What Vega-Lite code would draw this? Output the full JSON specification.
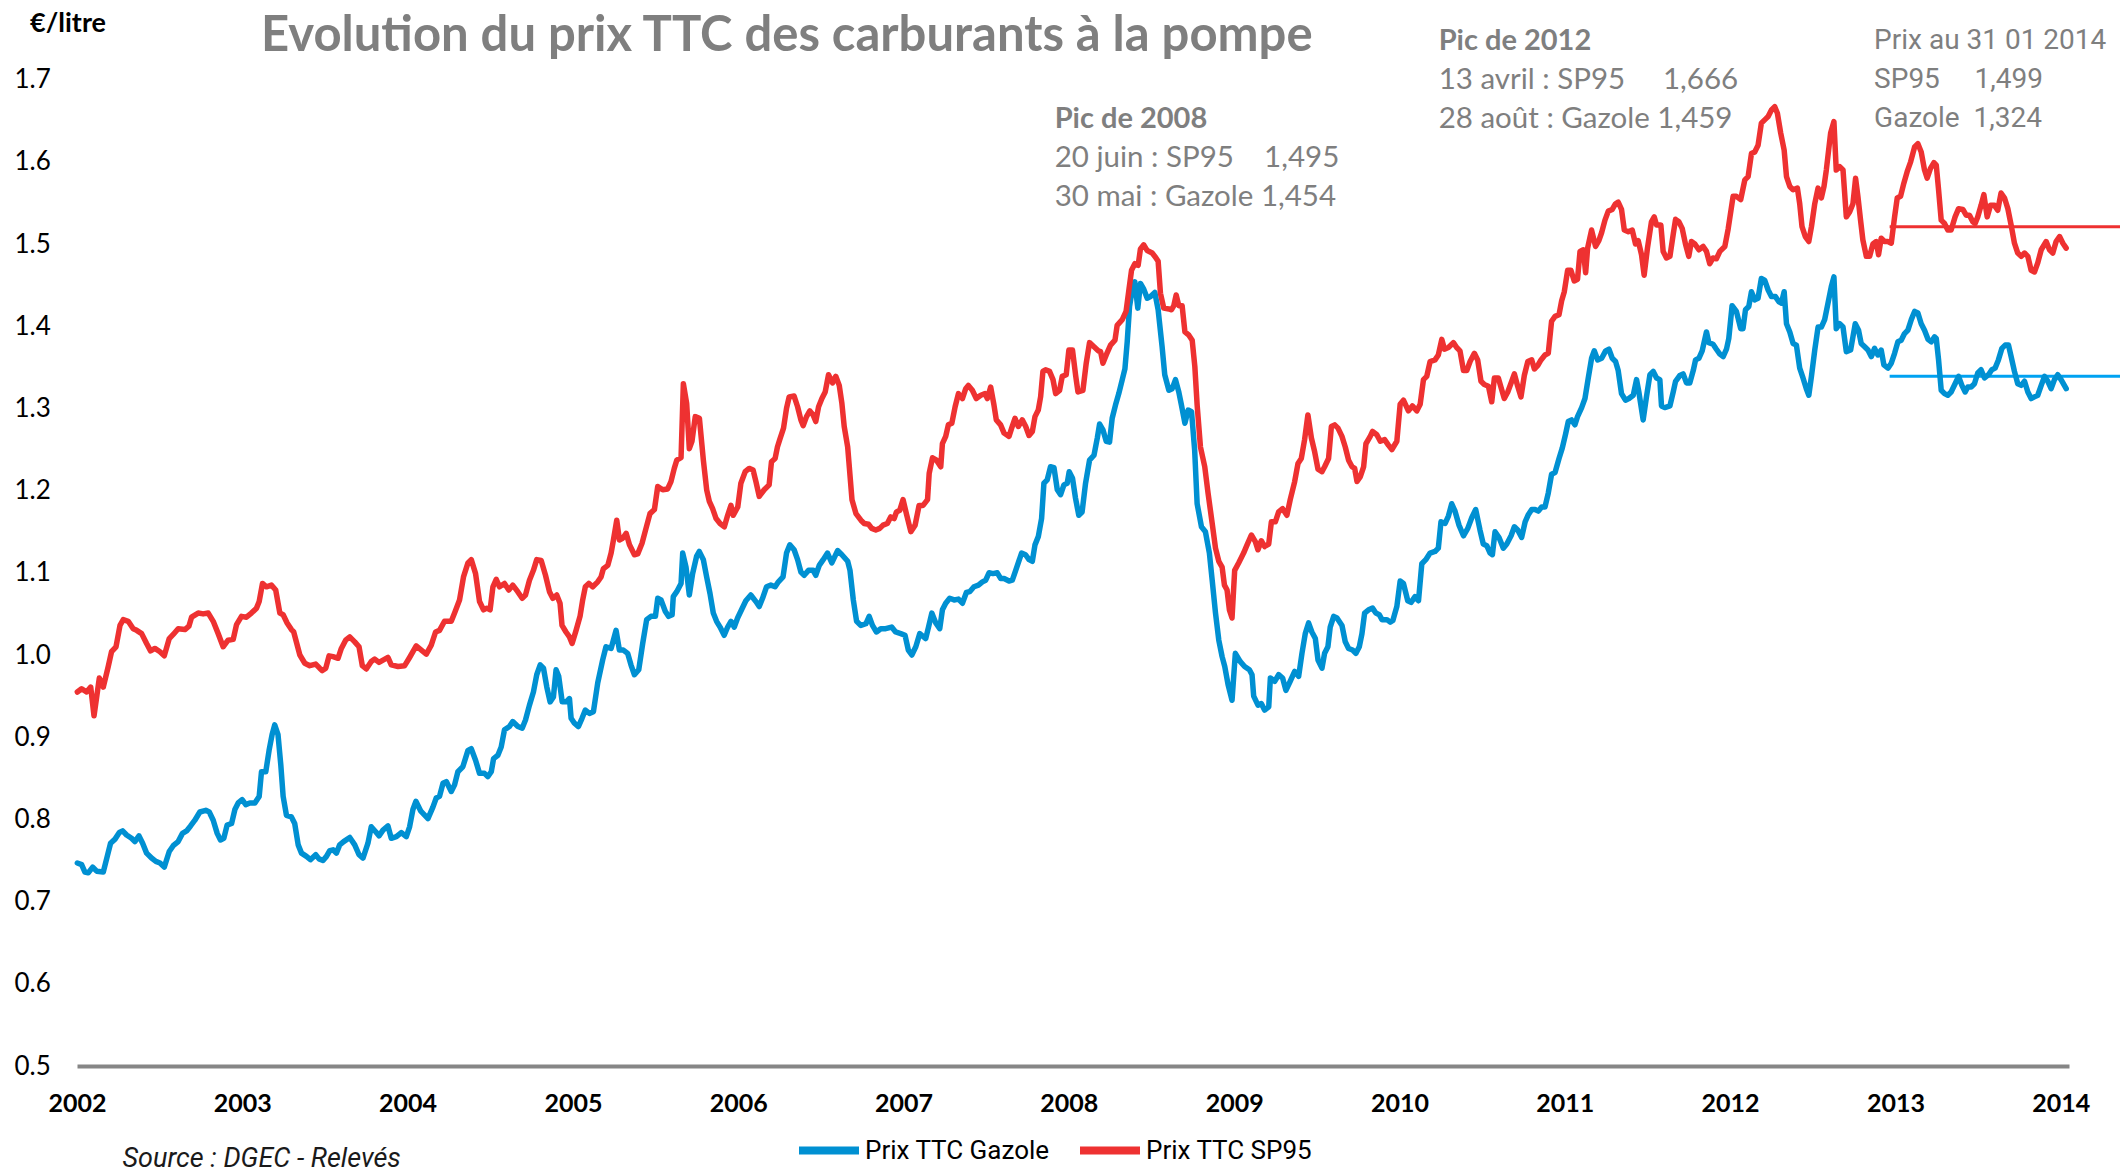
{
"$schema": "https://vega.github.io/schema/vega-lite/v6.json",
"width": 1992,
"height": 986.4,
"autosize": {"type": "none"},
"padding": {"left": 77, "top": 79.6, "right": 51, "bottom": 107},
"background": "#ffffff",
"config": {"view": {"stroke": null}},
"title": {"text": "Evolution du prix TTC des carburants à la pompe", "anchor": "start", "frame": "group", "dx": 184, "offset": -90, "baseline": "alphabetic", "font": "Lato", "fontSize": 49, "fontWeight": "bold", "color": "#7f7f7f"},
"datasets": {
"gazole": [
{"annee":2002.002,"prix":0.747},{"annee":2002.028,"prix":0.745},{"annee":2002.048,"prix":0.736},{"annee":2002.068,"prix":0.735},{"annee":2002.095,"prix":0.742},{"annee":2002.119,"prix":0.737},{"annee":2002.159,"prix":0.736},{"annee":2002.183,"prix":0.755},{"annee":2002.203,"prix":0.771},{"annee":2002.230,"prix":0.776},{"annee":2002.256,"prix":0.784},{"annee":2002.276,"prix":0.786},{"annee":2002.300,"prix":0.781},{"annee":2002.330,"prix":0.777},{"annee":2002.350,"prix":0.773},{"annee":2002.375,"prix":0.780},{"annee":2002.397,"prix":0.771},{"annee":2002.421,"prix":0.759},{"annee":2002.451,"prix":0.753},{"annee":2002.477,"prix":0.749},{"annee":2002.502,"prix":0.747},{"annee":2002.528,"prix":0.742},{"annee":2002.558,"prix":0.761},{"annee":2002.582,"prix":0.768},{"annee":2002.612,"prix":0.773},{"annee":2002.638,"prix":0.783},{"annee":2002.663,"prix":0.786},{"annee":2002.687,"prix":0.792},{"annee":2002.713,"prix":0.799},{"annee":2002.743,"prix":0.809},{"annee":2002.779,"prix":0.811},{"annee":2002.800,"prix":0.809},{"annee":2002.824,"prix":0.799},{"annee":2002.848,"prix":0.783},{"annee":2002.868,"prix":0.775},{"annee":2002.888,"prix":0.777},{"annee":2002.908,"prix":0.793},{"annee":2002.935,"prix":0.795},{"annee":2002.955,"prix":0.812},{"annee":2002.975,"prix":0.820},{"annee":2002.999,"prix":0.824},
{"annee":2003.021,"prix":0.818},{"annee":2003.045,"prix":0.820},{"annee":2003.076,"prix":0.820},{"annee":2003.102,"prix":0.828},{"annee":2003.116,"prix":0.858},{"annee":2003.142,"prix":0.858},{"annee":2003.162,"prix":0.884},{"annee":2003.180,"prix":0.903},{"annee":2003.196,"prix":0.915},{"annee":2003.216,"prix":0.903},{"annee":2003.233,"prix":0.866},{"annee":2003.247,"prix":0.828},{"annee":2003.267,"prix":0.805},{"annee":2003.297,"prix":0.803},{"annee":2003.317,"prix":0.795},{"annee":2003.338,"prix":0.769},{"annee":2003.358,"prix":0.759},{"annee":2003.388,"prix":0.755},{"annee":2003.412,"prix":0.751},{"annee":2003.444,"prix":0.757},{"annee":2003.464,"prix":0.752},{"annee":2003.488,"prix":0.750},{"annee":2003.509,"prix":0.755},{"annee":2003.529,"prix":0.762},{"annee":2003.549,"prix":0.763},{"annee":2003.569,"prix":0.759},{"annee":2003.589,"prix":0.769},{"annee":2003.613,"prix":0.773},{"annee":2003.650,"prix":0.778},{"annee":2003.680,"prix":0.769},{"annee":2003.706,"prix":0.757},{"annee":2003.730,"prix":0.753},{"annee":2003.760,"prix":0.771},{"annee":2003.780,"prix":0.791},{"annee":2003.807,"prix":0.785},{"annee":2003.827,"prix":0.780},{"annee":2003.851,"prix":0.787},{"annee":2003.881,"prix":0.792},{"annee":2003.901,"prix":0.777},{"annee":2003.932,"prix":0.779},{"annee":2003.962,"prix":0.784},{"annee":2003.992,"prix":0.779},
{"annee":2004.012,"prix":0.791},{"annee":2004.032,"prix":0.812},{"annee":2004.050,"prix":0.822},{"annee":2004.080,"prix":0.810},{"annee":2004.123,"prix":0.801},{"annee":2004.153,"prix":0.815},{"annee":2004.173,"prix":0.826},{"annee":2004.193,"prix":0.828},{"annee":2004.214,"prix":0.844},{"annee":2004.234,"prix":0.846},{"annee":2004.264,"prix":0.834},{"annee":2004.284,"prix":0.842},{"annee":2004.304,"prix":0.858},{"annee":2004.334,"prix":0.864},{"annee":2004.365,"prix":0.884},{"annee":2004.385,"prix":0.886},{"annee":2004.411,"prix":0.872},{"annee":2004.435,"prix":0.856},{"annee":2004.465,"prix":0.856},{"annee":2004.485,"prix":0.852},{"annee":2004.506,"prix":0.858},{"annee":2004.520,"prix":0.874},{"annee":2004.546,"prix":0.878},{"annee":2004.566,"prix":0.888},{"annee":2004.586,"prix":0.909},{"annee":2004.616,"prix":0.913},{"annee":2004.636,"prix":0.919},{"annee":2004.667,"prix":0.913},{"annee":2004.693,"prix":0.911},{"annee":2004.713,"prix":0.921},{"annee":2004.737,"prix":0.939},{"annee":2004.761,"prix":0.955},{"annee":2004.781,"prix":0.976},{"annee":2004.802,"prix":0.988},{"annee":2004.822,"prix":0.984},{"annee":2004.842,"prix":0.961},{"annee":2004.862,"prix":0.943},{"annee":2004.882,"prix":0.949},{"annee":2004.898,"prix":0.982},{"annee":2004.914,"prix":0.974},{"annee":2004.935,"prix":0.943},{"annee":2004.959,"prix":0.943},{"annee":2004.979,"prix":0.947},{"annee":2004.989,"prix":0.923},
{"annee":2005.009,"prix":0.917},{"annee":2005.033,"prix":0.913},{"annee":2005.055,"prix":0.923},{"annee":2005.075,"prix":0.933},{"annee":2005.100,"prix":0.929},{"annee":2005.124,"prix":0.931},{"annee":2005.150,"prix":0.966},{"annee":2005.180,"prix":0.994},{"annee":2005.200,"prix":1.010},{"annee":2005.231,"prix":1.008},{"annee":2005.261,"prix":1.030},{"annee":2005.281,"prix":1.006},{"annee":2005.305,"prix":1.006},{"annee":2005.331,"prix":1.002},{"annee":2005.351,"prix":0.988},{"annee":2005.372,"prix":0.976},{"annee":2005.398,"prix":0.982},{"annee":2005.422,"prix":1.014},{"annee":2005.446,"prix":1.043},{"annee":2005.472,"prix":1.047},{"annee":2005.499,"prix":1.047},{"annee":2005.513,"prix":1.069},{"annee":2005.533,"prix":1.067},{"annee":2005.559,"prix":1.053},{"annee":2005.579,"prix":1.047},{"annee":2005.600,"prix":1.049},{"annee":2005.607,"prix":1.071},{"annee":2005.628,"prix":1.077},{"annee":2005.654,"prix":1.087},{"annee":2005.664,"prix":1.124},{"annee":2005.684,"prix":1.107},{"annee":2005.704,"prix":1.073},{"annee":2005.724,"prix":1.099},{"annee":2005.748,"prix":1.120},{"annee":2005.764,"prix":1.126},{"annee":2005.789,"prix":1.116},{"annee":2005.809,"prix":1.095},{"annee":2005.829,"prix":1.075},{"annee":2005.849,"prix":1.051},{"annee":2005.869,"prix":1.041},{"annee":2005.890,"prix":1.034},{"annee":2005.915,"prix":1.024},{"annee":2005.936,"prix":1.034},{"annee":2005.956,"prix":1.041},{"annee":2005.976,"prix":1.034},{"annee":2005.996,"prix":1.045},
{"annee":2006.022,"prix":1.056},{"annee":2006.046,"prix":1.066},{"annee":2006.076,"prix":1.073},{"annee":2006.107,"prix":1.065},{"annee":2006.127,"prix":1.059},{"annee":2006.147,"prix":1.069},{"annee":2006.171,"prix":1.083},{"annee":2006.197,"prix":1.085},{"annee":2006.223,"prix":1.083},{"annee":2006.243,"prix":1.089},{"annee":2006.271,"prix":1.095},{"annee":2006.292,"prix":1.124},{"annee":2006.312,"prix":1.134},{"annee":2006.338,"prix":1.128},{"annee":2006.359,"prix":1.116},{"annee":2006.379,"prix":1.101},{"annee":2006.399,"prix":1.097},{"annee":2006.425,"prix":1.103},{"annee":2006.453,"prix":1.103},{"annee":2006.469,"prix":1.097},{"annee":2006.490,"prix":1.109},{"annee":2006.514,"prix":1.116},{"annee":2006.540,"prix":1.124},{"annee":2006.566,"prix":1.112},{"annee":2006.601,"prix":1.127},{"annee":2006.627,"prix":1.122},{"annee":2006.662,"prix":1.114},{"annee":2006.676,"prix":1.103},{"annee":2006.696,"prix":1.067},{"annee":2006.716,"prix":1.041},{"annee":2006.742,"prix":1.036},{"annee":2006.772,"prix":1.038},{"annee":2006.792,"prix":1.047},{"annee":2006.812,"prix":1.036},{"annee":2006.836,"prix":1.028},{"annee":2006.862,"prix":1.032},{"annee":2006.892,"prix":1.032},{"annee":2006.928,"prix":1.034},{"annee":2006.952,"prix":1.028},{"annee":2006.983,"prix":1.026},
{"annee":2007.009,"prix":1.024},{"annee":2007.029,"prix":1.006},{"annee":2007.050,"prix":1.000},{"annee":2007.074,"prix":1.010},{"annee":2007.098,"prix":1.026},{"annee":2007.134,"prix":1.020},{"annee":2007.151,"prix":1.034},{"annee":2007.171,"prix":1.051},{"annee":2007.195,"prix":1.039},{"annee":2007.219,"prix":1.032},{"annee":2007.235,"prix":1.055},{"annee":2007.255,"prix":1.063},{"annee":2007.279,"prix":1.069},{"annee":2007.306,"prix":1.067},{"annee":2007.332,"prix":1.068},{"annee":2007.356,"prix":1.063},{"annee":2007.380,"prix":1.076},{"annee":2007.400,"prix":1.077},{"annee":2007.426,"prix":1.083},{"annee":2007.453,"prix":1.085},{"annee":2007.477,"prix":1.089},{"annee":2007.497,"prix":1.091},{"annee":2007.517,"prix":1.100},{"annee":2007.541,"prix":1.099},{"annee":2007.567,"prix":1.100},{"annee":2007.588,"prix":1.093},{"annee":2007.608,"prix":1.093},{"annee":2007.638,"prix":1.090},{"annee":2007.658,"prix":1.091},{"annee":2007.682,"prix":1.105},{"annee":2007.714,"prix":1.124},{"annee":2007.738,"prix":1.122},{"annee":2007.759,"prix":1.116},{"annee":2007.779,"prix":1.114},{"annee":2007.795,"prix":1.134},{"annee":2007.815,"prix":1.144},{"annee":2007.835,"prix":1.166},{"annee":2007.849,"prix":1.209},{"annee":2007.869,"prix":1.213},{"annee":2007.889,"prix":1.229},{"annee":2007.910,"prix":1.228},{"annee":2007.930,"prix":1.201},{"annee":2007.950,"prix":1.195},{"annee":2007.970,"prix":1.207},{"annee":2007.990,"prix":1.209},
{"annee":2008.002,"prix":1.223},{"annee":2008.022,"prix":1.215},{"annee":2008.040,"prix":1.191},{"annee":2008.060,"prix":1.170},{"annee":2008.080,"prix":1.174},{"annee":2008.101,"prix":1.209},{"annee":2008.125,"prix":1.237},{"annee":2008.152,"prix":1.243},{"annee":2008.172,"prix":1.264},{"annee":2008.186,"prix":1.281},{"annee":2008.206,"prix":1.274},{"annee":2008.226,"prix":1.260},{"annee":2008.246,"prix":1.259},{"annee":2008.262,"prix":1.288},{"annee":2008.282,"prix":1.304},{"annee":2008.302,"prix":1.318},{"annee":2008.323,"prix":1.335},{"annee":2008.339,"prix":1.348},{"annee":2008.353,"prix":1.381},{"annee":2008.367,"prix":1.424},{"annee":2008.383,"prix":1.444},{"annee":2008.399,"prix":1.454},{"annee":2008.417,"prix":1.422},{"annee":2008.433,"prix":1.452},{"annee":2008.453,"prix":1.445},{"annee":2008.474,"prix":1.434},{"annee":2008.494,"prix":1.436},{"annee":2008.520,"prix":1.441},{"annee":2008.540,"prix":1.420},{"annee":2008.564,"prix":1.375},{"annee":2008.580,"prix":1.341},{"annee":2008.605,"prix":1.322},{"annee":2008.625,"prix":1.324},{"annee":2008.645,"prix":1.335},{"annee":2008.665,"prix":1.320},{"annee":2008.681,"prix":1.304},{"annee":2008.702,"prix":1.282},{"annee":2008.722,"prix":1.298},{"annee":2008.742,"prix":1.296},{"annee":2008.761,"prix":1.249},{"annee":2008.776,"prix":1.184},{"annee":2008.802,"prix":1.156},{"annee":2008.826,"prix":1.150},{"annee":2008.850,"prix":1.124},{"annee":2008.867,"prix":1.091},{"annee":2008.887,"prix":1.051},{"annee":2008.907,"prix":1.018},{"annee":2008.927,"prix":0.998},{"annee":2008.943,"prix":0.986},{"annee":2008.963,"prix":0.964},{"annee":2008.987,"prix":0.945},
{"annee":2009.007,"prix":1.002},{"annee":2009.037,"prix":0.992},{"annee":2009.063,"prix":0.986},{"annee":2009.092,"prix":0.982},{"annee":2009.108,"prix":0.976},{"annee":2009.118,"prix":0.950},{"annee":2009.144,"prix":0.939},{"annee":2009.164,"prix":0.941},{"annee":2009.184,"prix":0.933},{"annee":2009.209,"prix":0.937},{"annee":2009.219,"prix":0.972},{"annee":2009.245,"prix":0.968},{"annee":2009.269,"prix":0.976},{"annee":2009.293,"prix":0.972},{"annee":2009.313,"prix":0.957},{"annee":2009.339,"prix":0.968},{"annee":2009.366,"prix":0.980},{"annee":2009.390,"prix":0.974},{"annee":2009.410,"prix":1.002},{"annee":2009.430,"prix":1.026},{"annee":2009.450,"prix":1.039},{"annee":2009.470,"prix":1.028},{"annee":2009.491,"prix":1.020},{"annee":2009.507,"prix":0.994},{"annee":2009.531,"prix":0.984},{"annee":2009.547,"prix":1.002},{"annee":2009.567,"prix":1.010},{"annee":2009.581,"prix":1.034},{"annee":2009.602,"prix":1.047},{"annee":2009.622,"prix":1.045},{"annee":2009.652,"prix":1.036},{"annee":2009.672,"prix":1.016},{"annee":2009.692,"prix":1.008},{"annee":2009.716,"prix":1.006},{"annee":2009.736,"prix":1.002},{"annee":2009.757,"prix":1.010},{"annee":2009.773,"prix":1.026},{"annee":2009.789,"prix":1.051},{"annee":2009.813,"prix":1.055},{"annee":2009.837,"prix":1.057},{"annee":2009.857,"prix":1.051},{"annee":2009.878,"prix":1.049},{"annee":2009.894,"prix":1.043},{"annee":2009.924,"prix":1.043},{"annee":2009.944,"prix":1.040},{"annee":2009.960,"prix":1.042},{"annee":2009.974,"prix":1.052},{"annee":2009.984,"prix":1.059},
{"annee":2010.004,"prix":1.090},{"annee":2010.024,"prix":1.087},{"annee":2010.050,"prix":1.066},{"annee":2010.070,"prix":1.064},{"annee":2010.094,"prix":1.071},{"annee":2010.115,"prix":1.066},{"annee":2010.135,"prix":1.111},{"annee":2010.159,"prix":1.116},{"annee":2010.185,"prix":1.124},{"annee":2010.215,"prix":1.126},{"annee":2010.235,"prix":1.130},{"annee":2010.251,"prix":1.162},{"annee":2010.276,"prix":1.160},{"annee":2010.296,"prix":1.169},{"annee":2010.316,"prix":1.184},{"annee":2010.336,"prix":1.175},{"annee":2010.360,"prix":1.158},{"annee":2010.387,"prix":1.145},{"annee":2010.413,"prix":1.154},{"annee":2010.437,"prix":1.167},{"annee":2010.461,"prix":1.177},{"annee":2010.487,"prix":1.152},{"annee":2010.507,"prix":1.135},{"annee":2010.528,"prix":1.133},{"annee":2010.548,"prix":1.124},{"annee":2010.562,"prix":1.122},{"annee":2010.578,"prix":1.150},{"annee":2010.602,"prix":1.143},{"annee":2010.628,"prix":1.130},{"annee":2010.649,"prix":1.135},{"annee":2010.675,"prix":1.145},{"annee":2010.695,"prix":1.156},{"annee":2010.715,"prix":1.152},{"annee":2010.739,"prix":1.143},{"annee":2010.760,"prix":1.162},{"annee":2010.780,"prix":1.171},{"annee":2010.800,"prix":1.177},{"annee":2010.820,"prix":1.177},{"annee":2010.840,"prix":1.175},{"annee":2010.860,"prix":1.180},{"annee":2010.880,"prix":1.180},{"annee":2010.900,"prix":1.197},{"annee":2010.920,"prix":1.220},{"annee":2010.941,"prix":1.222},{"annee":2010.965,"prix":1.239},{"annee":2010.985,"prix":1.252},
{"annee":2011.005,"prix":1.269},{"annee":2011.021,"prix":1.284},{"annee":2011.041,"prix":1.286},{"annee":2011.061,"prix":1.280},{"annee":2011.077,"prix":1.290},{"annee":2011.102,"prix":1.301},{"annee":2011.122,"prix":1.312},{"annee":2011.142,"prix":1.337},{"annee":2011.162,"prix":1.361},{"annee":2011.178,"prix":1.370},{"annee":2011.199,"prix":1.359},{"annee":2011.223,"prix":1.361},{"annee":2011.247,"prix":1.370},{"annee":2011.267,"prix":1.372},{"annee":2011.287,"prix":1.361},{"annee":2011.307,"prix":1.357},{"annee":2011.323,"prix":1.346},{"annee":2011.343,"prix":1.318},{"annee":2011.367,"prix":1.310},{"annee":2011.388,"prix":1.312},{"annee":2011.414,"prix":1.316},{"annee":2011.434,"prix":1.335},{"annee":2011.448,"prix":1.320},{"annee":2011.474,"prix":1.286},{"annee":2011.494,"prix":1.314},{"annee":2011.515,"prix":1.341},{"annee":2011.535,"prix":1.345},{"annee":2011.555,"prix":1.337},{"annee":2011.575,"prix":1.335},{"annee":2011.585,"prix":1.303},{"annee":2011.605,"prix":1.301},{"annee":2011.636,"prix":1.303},{"annee":2011.656,"prix":1.320},{"annee":2011.670,"prix":1.333},{"annee":2011.696,"prix":1.340},{"annee":2011.716,"prix":1.342},{"annee":2011.736,"prix":1.331},{"annee":2011.756,"prix":1.331},{"annee":2011.777,"prix":1.346},{"annee":2011.791,"prix":1.359},{"annee":2011.811,"prix":1.361},{"annee":2011.831,"prix":1.370},{"annee":2011.857,"prix":1.393},{"annee":2011.871,"prix":1.380},{"annee":2011.897,"prix":1.378},{"annee":2011.917,"prix":1.372},{"annee":2011.938,"prix":1.366},{"annee":2011.958,"prix":1.363},{"annee":2011.978,"prix":1.372},{"annee":2011.992,"prix":1.385},
{"annee":2012.012,"prix":1.425},{"annee":2012.038,"prix":1.418},{"annee":2012.064,"prix":1.397},{"annee":2012.078,"prix":1.397},{"annee":2012.093,"prix":1.420},{"annee":2012.113,"prix":1.424},{"annee":2012.129,"prix":1.442},{"annee":2012.149,"prix":1.432},{"annee":2012.169,"prix":1.434},{"annee":2012.189,"prix":1.458},{"annee":2012.209,"prix":1.456},{"annee":2012.230,"prix":1.444},{"annee":2012.250,"prix":1.436},{"annee":2012.274,"prix":1.436},{"annee":2012.294,"prix":1.430},{"annee":2012.310,"prix":1.428},{"annee":2012.327,"prix":1.442},{"annee":2012.341,"prix":1.403},{"annee":2012.361,"prix":1.393},{"annee":2012.381,"prix":1.379},{"annee":2012.401,"prix":1.377},{"annee":2012.421,"prix":1.349},{"annee":2012.441,"prix":1.337},{"annee":2012.461,"prix":1.324},{"annee":2012.476,"prix":1.316},{"annee":2012.492,"prix":1.339},{"annee":2012.512,"prix":1.371},{"annee":2012.532,"prix":1.399},{"annee":2012.552,"prix":1.399},{"annee":2012.572,"prix":1.408},{"annee":2012.592,"prix":1.428},{"annee":2012.612,"prix":1.448},{"annee":2012.628,"prix":1.460},{"annee":2012.642,"prix":1.397},{"annee":2012.663,"prix":1.403},{"annee":2012.683,"prix":1.399},{"annee":2012.703,"prix":1.369},{"annee":2012.729,"prix":1.371},{"annee":2012.743,"prix":1.387},{"annee":2012.757,"prix":1.403},{"annee":2012.777,"prix":1.395},{"annee":2012.793,"prix":1.379},{"annee":2012.814,"prix":1.375},{"annee":2012.834,"prix":1.371},{"annee":2012.854,"prix":1.363},{"annee":2012.874,"prix":1.373},{"annee":2012.894,"prix":1.365},{"annee":2012.914,"prix":1.371},{"annee":2012.930,"prix":1.353},{"annee":2012.955,"prix":1.349},{"annee":2012.975,"prix":1.355},{"annee":2012.995,"prix":1.367},
{"annee":2013.015,"prix":1.381},{"annee":2013.035,"prix":1.383},{"annee":2013.055,"prix":1.391},{"annee":2013.075,"prix":1.395},{"annee":2013.096,"prix":1.408},{"annee":2013.116,"prix":1.418},{"annee":2013.136,"prix":1.416},{"annee":2013.156,"prix":1.403},{"annee":2013.176,"prix":1.395},{"annee":2013.197,"prix":1.384},{"annee":2013.217,"prix":1.381},{"annee":2013.237,"prix":1.387},{"annee":2013.247,"prix":1.385},{"annee":2013.261,"prix":1.359},{"annee":2013.277,"prix":1.322},{"annee":2013.297,"prix":1.318},{"annee":2013.317,"prix":1.316},{"annee":2013.337,"prix":1.320},{"annee":2013.361,"prix":1.330},{"annee":2013.382,"prix":1.339},{"annee":2013.402,"prix":1.328},{"annee":2013.422,"prix":1.320},{"annee":2013.438,"prix":1.326},{"annee":2013.458,"prix":1.326},{"annee":2013.478,"prix":1.330},{"annee":2013.498,"prix":1.343},{"annee":2013.518,"prix":1.347},{"annee":2013.539,"prix":1.337},{"annee":2013.563,"prix":1.341},{"annee":2013.583,"prix":1.347},{"annee":2013.603,"prix":1.349},{"annee":2013.623,"prix":1.359},{"annee":2013.644,"prix":1.373},{"annee":2013.664,"prix":1.377},{"annee":2013.684,"prix":1.377},{"annee":2013.700,"prix":1.363},{"annee":2013.720,"prix":1.345},{"annee":2013.740,"prix":1.330},{"annee":2013.761,"prix":1.328},{"annee":2013.781,"prix":1.333},{"annee":2013.801,"prix":1.320},{"annee":2013.821,"prix":1.312},{"annee":2013.841,"prix":1.314},{"annee":2013.861,"prix":1.316},{"annee":2013.882,"prix":1.328},{"annee":2013.902,"prix":1.339},{"annee":2013.922,"prix":1.333},{"annee":2013.942,"prix":1.324},{"annee":2013.962,"prix":1.335},{"annee":2013.982,"prix":1.341},{"annee":2014.002,"prix":1.335},{"annee":2014.033,"prix":1.324}
],
"sp95": [
{"annee":2002.002,"prix":0.955},{"annee":2002.028,"prix":0.959},{"annee":2002.058,"prix":0.955},{"annee":2002.083,"prix":0.961},{"annee":2002.103,"prix":0.926},{"annee":2002.135,"prix":0.972},{"annee":2002.159,"prix":0.961},{"annee":2002.189,"prix":0.986},{"annee":2002.209,"prix":1.004},{"annee":2002.236,"prix":1.010},{"annee":2002.260,"prix":1.036},{"annee":2002.280,"prix":1.043},{"annee":2002.310,"prix":1.041},{"annee":2002.340,"prix":1.032},{"annee":2002.361,"prix":1.030},{"annee":2002.391,"prix":1.026},{"annee":2002.421,"prix":1.014},{"annee":2002.445,"prix":1.005},{"annee":2002.471,"prix":1.008},{"annee":2002.502,"prix":1.004},{"annee":2002.528,"prix":0.999},{"annee":2002.558,"prix":1.020},{"annee":2002.582,"prix":1.025},{"annee":2002.612,"prix":1.032},{"annee":2002.653,"prix":1.031},{"annee":2002.677,"prix":1.035},{"annee":2002.693,"prix":1.046},{"annee":2002.733,"prix":1.051},{"annee":2002.763,"prix":1.050},{"annee":2002.794,"prix":1.051},{"annee":2002.824,"prix":1.041},{"annee":2002.854,"prix":1.026},{"annee":2002.884,"prix":1.010},{"annee":2002.914,"prix":1.018},{"annee":2002.945,"prix":1.019},{"annee":2002.965,"prix":1.037},{"annee":2002.995,"prix":1.047},
{"annee":2003.025,"prix":1.046},{"annee":2003.055,"prix":1.051},{"annee":2003.086,"prix":1.057},{"annee":2003.102,"prix":1.065},{"annee":2003.122,"prix":1.087},{"annee":2003.146,"prix":1.083},{"annee":2003.176,"prix":1.085},{"annee":2003.202,"prix":1.079},{"annee":2003.227,"prix":1.051},{"annee":2003.247,"prix":1.049},{"annee":2003.271,"prix":1.039},{"annee":2003.297,"prix":1.031},{"annee":2003.311,"prix":1.028},{"annee":2003.348,"prix":1.000},{"annee":2003.378,"prix":0.990},{"annee":2003.408,"prix":0.987},{"annee":2003.444,"prix":0.989},{"annee":2003.468,"prix":0.984},{"annee":2003.484,"prix":0.981},{"annee":2003.505,"prix":0.984},{"annee":2003.525,"prix":0.999},{"annee":2003.549,"prix":0.998},{"annee":2003.579,"prix":0.996},{"annee":2003.599,"prix":1.008},{"annee":2003.625,"prix":1.018},{"annee":2003.650,"prix":1.022},{"annee":2003.680,"prix":1.016},{"annee":2003.706,"prix":1.010},{"annee":2003.726,"prix":0.987},{"annee":2003.750,"prix":0.983},{"annee":2003.780,"prix":0.992},{"annee":2003.801,"prix":0.995},{"annee":2003.827,"prix":0.991},{"annee":2003.881,"prix":0.997},{"annee":2003.901,"prix":0.988},{"annee":2003.942,"prix":0.986},{"annee":2003.982,"prix":0.987},
{"annee":2004.012,"prix":0.997},{"annee":2004.052,"prix":1.011},{"annee":2004.083,"prix":1.006},{"annee":2004.113,"prix":1.001},{"annee":2004.143,"prix":1.012},{"annee":2004.169,"prix":1.028},{"annee":2004.193,"prix":1.030},{"annee":2004.223,"prix":1.041},{"annee":2004.264,"prix":1.041},{"annee":2004.284,"prix":1.051},{"annee":2004.314,"prix":1.067},{"annee":2004.338,"prix":1.095},{"annee":2004.365,"prix":1.112},{"annee":2004.385,"prix":1.116},{"annee":2004.411,"prix":1.099},{"annee":2004.435,"prix":1.065},{"annee":2004.459,"prix":1.055},{"annee":2004.479,"prix":1.057},{"annee":2004.499,"prix":1.055},{"annee":2004.516,"prix":1.083},{"annee":2004.536,"prix":1.092},{"annee":2004.556,"prix":1.083},{"annee":2004.586,"prix":1.087},{"annee":2004.612,"prix":1.079},{"annee":2004.636,"prix":1.085},{"annee":2004.666,"prix":1.077},{"annee":2004.693,"prix":1.069},{"annee":2004.713,"prix":1.073},{"annee":2004.737,"prix":1.091},{"annee":2004.761,"prix":1.103},{"annee":2004.781,"prix":1.116},{"annee":2004.808,"prix":1.115},{"annee":2004.834,"prix":1.097},{"annee":2004.858,"prix":1.077},{"annee":2004.878,"prix":1.069},{"annee":2004.902,"prix":1.073},{"annee":2004.922,"prix":1.063},{"annee":2004.934,"prix":1.036},{"annee":2004.958,"prix":1.028},{"annee":2004.979,"prix":1.022},{"annee":2004.995,"prix":1.014},
{"annee":2005.019,"prix":1.030},{"annee":2005.043,"prix":1.047},{"annee":2005.059,"prix":1.067},{"annee":2005.075,"prix":1.083},{"annee":2005.096,"prix":1.087},{"annee":2005.120,"prix":1.083},{"annee":2005.150,"prix":1.089},{"annee":2005.170,"prix":1.095},{"annee":2005.184,"prix":1.105},{"annee":2005.211,"prix":1.109},{"annee":2005.231,"prix":1.124},{"annee":2005.245,"prix":1.140},{"annee":2005.265,"prix":1.164},{"annee":2005.281,"prix":1.140},{"annee":2005.301,"prix":1.142},{"annee":2005.322,"prix":1.148},{"annee":2005.342,"prix":1.134},{"annee":2005.372,"prix":1.122},{"annee":2005.392,"prix":1.123},{"annee":2005.418,"prix":1.136},{"annee":2005.442,"prix":1.154},{"annee":2005.466,"prix":1.172},{"annee":2005.493,"prix":1.177},{"annee":2005.513,"prix":1.205},{"annee":2005.543,"prix":1.201},{"annee":2005.573,"prix":1.202},{"annee":2005.593,"prix":1.211},{"annee":2005.613,"prix":1.227},{"annee":2005.628,"prix":1.237},{"annee":2005.654,"prix":1.240},{"annee":2005.668,"prix":1.330},{"annee":2005.688,"prix":1.306},{"annee":2005.704,"prix":1.251},{"annee":2005.720,"prix":1.260},{"annee":2005.740,"prix":1.290},{"annee":2005.765,"prix":1.288},{"annee":2005.789,"prix":1.237},{"annee":2005.809,"prix":1.201},{"annee":2005.825,"prix":1.187},{"annee":2005.845,"prix":1.178},{"annee":2005.866,"prix":1.166},{"annee":2005.890,"prix":1.160},{"annee":2005.916,"prix":1.156},{"annee":2005.936,"prix":1.170},{"annee":2005.956,"prix":1.182},{"annee":2005.970,"prix":1.170},{"annee":2005.997,"prix":1.180},
{"annee":2006.016,"prix":1.209},{"annee":2006.042,"prix":1.223},{"annee":2006.066,"prix":1.227},{"annee":2006.090,"prix":1.225},{"annee":2006.107,"prix":1.211},{"annee":2006.127,"prix":1.193},{"annee":2006.157,"prix":1.201},{"annee":2006.187,"prix":1.207},{"annee":2006.201,"prix":1.235},{"annee":2006.223,"prix":1.239},{"annee":2006.237,"prix":1.253},{"annee":2006.251,"prix":1.262},{"annee":2006.274,"prix":1.276},{"annee":2006.292,"prix":1.300},{"annee":2006.308,"prix":1.314},{"annee":2006.338,"prix":1.315},{"annee":2006.359,"prix":1.302},{"annee":2006.379,"prix":1.286},{"annee":2006.393,"prix":1.279},{"annee":2006.413,"prix":1.290},{"annee":2006.433,"prix":1.297},{"annee":2006.453,"prix":1.292},{"annee":2006.469,"prix":1.284},{"annee":2006.486,"prix":1.302},{"annee":2006.506,"prix":1.312},{"annee":2006.526,"prix":1.320},{"annee":2006.546,"prix":1.341},{"annee":2006.570,"prix":1.331},{"annee":2006.590,"prix":1.339},{"annee":2006.611,"prix":1.328},{"annee":2006.627,"prix":1.306},{"annee":2006.641,"prix":1.278},{"annee":2006.662,"prix":1.253},{"annee":2006.688,"prix":1.189},{"annee":2006.712,"prix":1.172},{"annee":2006.742,"prix":1.164},{"annee":2006.762,"prix":1.160},{"annee":2006.788,"prix":1.159},{"annee":2006.808,"prix":1.154},{"annee":2006.832,"prix":1.152},{"annee":2006.856,"prix":1.154},{"annee":2006.876,"prix":1.158},{"annee":2006.902,"prix":1.160},{"annee":2006.922,"prix":1.168},{"annee":2006.943,"prix":1.166},{"annee":2006.957,"prix":1.174},{"annee":2006.977,"prix":1.176},{"annee":2006.997,"prix":1.189},
{"annee":2007.017,"prix":1.172},{"annee":2007.044,"prix":1.150},{"annee":2007.070,"prix":1.158},{"annee":2007.094,"prix":1.182},{"annee":2007.118,"prix":1.182},{"annee":2007.145,"prix":1.189},{"annee":2007.155,"prix":1.221},{"annee":2007.175,"prix":1.240},{"annee":2007.199,"prix":1.237},{"annee":2007.225,"prix":1.229},{"annee":2007.235,"prix":1.257},{"annee":2007.255,"prix":1.266},{"annee":2007.271,"prix":1.280},{"annee":2007.292,"prix":1.282},{"annee":2007.312,"prix":1.302},{"annee":2007.332,"prix":1.318},{"annee":2007.356,"prix":1.312},{"annee":2007.376,"prix":1.324},{"annee":2007.392,"prix":1.328},{"annee":2007.416,"prix":1.322},{"annee":2007.440,"prix":1.312},{"annee":2007.467,"prix":1.316},{"annee":2007.493,"prix":1.318},{"annee":2007.507,"prix":1.312},{"annee":2007.527,"prix":1.326},{"annee":2007.547,"prix":1.304},{"annee":2007.561,"prix":1.286},{"annee":2007.587,"prix":1.280},{"annee":2007.608,"prix":1.270},{"annee":2007.638,"prix":1.266},{"annee":2007.654,"prix":1.276},{"annee":2007.674,"prix":1.288},{"annee":2007.694,"prix":1.278},{"annee":2007.718,"prix":1.286},{"annee":2007.739,"prix":1.278},{"annee":2007.759,"prix":1.267},{"annee":2007.779,"prix":1.272},{"annee":2007.795,"prix":1.290},{"annee":2007.815,"prix":1.298},{"annee":2007.829,"prix":1.314},{"annee":2007.843,"prix":1.345},{"annee":2007.859,"prix":1.347},{"annee":2007.883,"prix":1.345},{"annee":2007.904,"prix":1.335},{"annee":2007.920,"prix":1.318},{"annee":2007.944,"prix":1.322},{"annee":2007.960,"prix":1.339},{"annee":2007.984,"prix":1.341},
{"annee":2008.000,"prix":1.371},{"annee":2008.022,"prix":1.371},{"annee":2008.041,"prix":1.340},{"annee":2008.055,"prix":1.320},{"annee":2008.085,"prix":1.322},{"annee":2008.105,"prix":1.355},{"annee":2008.125,"prix":1.380},{"annee":2008.152,"prix":1.375},{"annee":2008.178,"prix":1.370},{"annee":2008.192,"prix":1.369},{"annee":2008.206,"prix":1.355},{"annee":2008.226,"prix":1.365},{"annee":2008.252,"prix":1.377},{"annee":2008.279,"prix":1.383},{"annee":2008.292,"prix":1.401},{"annee":2008.323,"prix":1.408},{"annee":2008.346,"prix":1.418},{"annee":2008.363,"prix":1.444},{"annee":2008.379,"prix":1.468},{"annee":2008.399,"prix":1.476},{"annee":2008.419,"prix":1.474},{"annee":2008.433,"prix":1.494},{"annee":2008.453,"prix":1.499},{"annee":2008.474,"prix":1.492},{"annee":2008.504,"prix":1.489},{"annee":2008.524,"prix":1.484},{"annee":2008.540,"prix":1.479},{"annee":2008.554,"prix":1.440},{"annee":2008.574,"prix":1.422},{"annee":2008.605,"prix":1.421},{"annee":2008.621,"prix":1.420},{"annee":2008.635,"prix":1.425},{"annee":2008.649,"prix":1.438},{"annee":2008.665,"prix":1.425},{"annee":2008.685,"prix":1.425},{"annee":2008.702,"prix":1.393},{"annee":2008.726,"prix":1.389},{"annee":2008.746,"prix":1.383},{"annee":2008.762,"prix":1.351},{"annee":2008.776,"prix":1.304},{"annee":2008.796,"prix":1.253},{"annee":2008.822,"prix":1.229},{"annee":2008.842,"prix":1.197},{"annee":2008.867,"prix":1.160},{"annee":2008.887,"prix":1.130},{"annee":2008.907,"prix":1.114},{"annee":2008.927,"prix":1.107},{"annee":2008.941,"prix":1.085},{"annee":2008.957,"prix":1.079},{"annee":2008.971,"prix":1.055},{"annee":2008.987,"prix":1.045},
{"annee":2009.003,"prix":1.103},{"annee":2009.027,"prix":1.112},{"annee":2009.057,"prix":1.124},{"annee":2009.078,"prix":1.134},{"annee":2009.104,"prix":1.146},{"annee":2009.128,"prix":1.138},{"annee":2009.144,"prix":1.128},{"annee":2009.164,"prix":1.139},{"annee":2009.184,"prix":1.132},{"annee":2009.209,"prix":1.135},{"annee":2009.225,"prix":1.162},{"annee":2009.249,"prix":1.162},{"annee":2009.269,"prix":1.174},{"annee":2009.293,"prix":1.178},{"annee":2009.319,"prix":1.170},{"annee":2009.339,"prix":1.189},{"annee":2009.366,"prix":1.211},{"annee":2009.386,"prix":1.233},{"annee":2009.406,"prix":1.239},{"annee":2009.426,"prix":1.262},{"annee":2009.446,"prix":1.292},{"annee":2009.467,"prix":1.264},{"annee":2009.487,"prix":1.247},{"annee":2009.507,"prix":1.226},{"annee":2009.531,"prix":1.223},{"annee":2009.547,"prix":1.229},{"annee":2009.571,"prix":1.239},{"annee":2009.588,"prix":1.278},{"annee":2009.608,"prix":1.280},{"annee":2009.628,"prix":1.276},{"annee":2009.652,"prix":1.266},{"annee":2009.672,"prix":1.253},{"annee":2009.692,"prix":1.237},{"annee":2009.713,"prix":1.229},{"annee":2009.729,"prix":1.227},{"annee":2009.743,"prix":1.211},{"annee":2009.763,"prix":1.217},{"annee":2009.783,"prix":1.229},{"annee":2009.797,"prix":1.257},{"annee":2009.823,"prix":1.266},{"annee":2009.837,"prix":1.272},{"annee":2009.863,"prix":1.268},{"annee":2009.884,"prix":1.260},{"annee":2009.910,"prix":1.262},{"annee":2009.934,"prix":1.255},{"annee":2009.954,"prix":1.250},{"annee":2009.984,"prix":1.260},
{"annee":2010.004,"prix":1.305},{"annee":2010.024,"prix":1.310},{"annee":2010.054,"prix":1.297},{"annee":2010.078,"prix":1.303},{"annee":2010.105,"prix":1.297},{"annee":2010.125,"prix":1.305},{"annee":2010.145,"prix":1.335},{"annee":2010.165,"prix":1.339},{"annee":2010.185,"prix":1.357},{"annee":2010.215,"prix":1.359},{"annee":2010.235,"prix":1.365},{"annee":2010.256,"prix":1.384},{"annee":2010.272,"prix":1.372},{"annee":2010.296,"prix":1.374},{"annee":2010.326,"prix":1.380},{"annee":2010.346,"prix":1.374},{"annee":2010.366,"prix":1.370},{"annee":2010.387,"prix":1.346},{"annee":2010.407,"prix":1.346},{"annee":2010.427,"prix":1.357},{"annee":2010.453,"prix":1.367},{"annee":2010.473,"prix":1.359},{"annee":2010.493,"prix":1.333},{"annee":2010.513,"prix":1.329},{"annee":2010.538,"prix":1.327},{"annee":2010.558,"prix":1.308},{"annee":2010.574,"prix":1.337},{"annee":2010.598,"prix":1.337},{"annee":2010.618,"prix":1.323},{"annee":2010.634,"prix":1.312},{"annee":2010.655,"prix":1.320},{"annee":2010.679,"prix":1.333},{"annee":2010.695,"prix":1.342},{"annee":2010.715,"prix":1.327},{"annee":2010.735,"prix":1.314},{"annee":2010.755,"prix":1.340},{"annee":2010.776,"prix":1.357},{"annee":2010.800,"prix":1.359},{"annee":2010.816,"prix":1.348},{"annee":2010.836,"prix":1.352},{"annee":2010.856,"prix":1.359},{"annee":2010.880,"prix":1.365},{"annee":2010.900,"prix":1.367},{"annee":2010.920,"prix":1.406},{"annee":2010.941,"prix":1.412},{"annee":2010.965,"prix":1.414},{"annee":2010.981,"prix":1.431},{"annee":2010.997,"prix":1.442},
{"annee":2011.017,"prix":1.468},{"annee":2011.037,"prix":1.468},{"annee":2011.057,"prix":1.455},{"annee":2011.077,"prix":1.457},{"annee":2011.092,"prix":1.491},{"annee":2011.112,"prix":1.493},{"annee":2011.126,"prix":1.465},{"annee":2011.138,"prix":1.495},{"annee":2011.162,"prix":1.517},{"annee":2011.186,"prix":1.497},{"annee":2011.206,"prix":1.504},{"annee":2011.223,"prix":1.514},{"annee":2011.243,"prix":1.529},{"annee":2011.263,"prix":1.540},{"annee":2011.287,"prix":1.542},{"annee":2011.307,"prix":1.549},{"annee":2011.323,"prix":1.551},{"annee":2011.343,"prix":1.542},{"annee":2011.360,"prix":1.517},{"annee":2011.384,"prix":1.515},{"annee":2011.408,"prix":1.517},{"annee":2011.428,"prix":1.500},{"annee":2011.444,"prix":1.504},{"annee":2011.464,"prix":1.487},{"annee":2011.480,"prix":1.462},{"annee":2011.500,"prix":1.495},{"annee":2011.524,"prix":1.527},{"annee":2011.541,"prix":1.533},{"annee":2011.555,"prix":1.523},{"annee":2011.581,"prix":1.523},{"annee":2011.595,"prix":1.491},{"annee":2011.615,"prix":1.483},{"annee":2011.636,"prix":1.485},{"annee":2011.656,"prix":1.512},{"annee":2011.670,"prix":1.530},{"annee":2011.690,"prix":1.527},{"annee":2011.710,"prix":1.519},{"annee":2011.730,"prix":1.500},{"annee":2011.750,"prix":1.485},{"annee":2011.766,"prix":1.503},{"annee":2011.787,"prix":1.500},{"annee":2011.811,"prix":1.493},{"annee":2011.837,"prix":1.497},{"annee":2011.857,"prix":1.491},{"annee":2011.877,"prix":1.476},{"annee":2011.897,"prix":1.483},{"annee":2011.917,"prix":1.482},{"annee":2011.938,"prix":1.491},{"annee":2011.968,"prix":1.497},{"annee":2011.988,"prix":1.518},
{"annee":2012.018,"prix":1.558},{"annee":2012.038,"prix":1.558},{"annee":2012.064,"prix":1.554},{"annee":2012.089,"prix":1.578},{"annee":2012.109,"prix":1.582},{"annee":2012.129,"prix":1.610},{"annee":2012.149,"prix":1.612},{"annee":2012.169,"prix":1.620},{"annee":2012.189,"prix":1.647},{"annee":2012.209,"prix":1.651},{"annee":2012.230,"prix":1.655},{"annee":2012.250,"prix":1.663},{"annee":2012.270,"prix":1.667},{"annee":2012.286,"prix":1.659},{"annee":2012.306,"prix":1.635},{"annee":2012.327,"prix":1.614},{"annee":2012.341,"prix":1.582},{"annee":2012.361,"prix":1.570},{"annee":2012.381,"prix":1.566},{"annee":2012.407,"prix":1.568},{"annee":2012.421,"prix":1.549},{"annee":2012.435,"prix":1.521},{"annee":2012.455,"prix":1.509},{"annee":2012.476,"prix":1.503},{"annee":2012.492,"prix":1.521},{"annee":2012.512,"prix":1.549},{"annee":2012.532,"prix":1.568},{"annee":2012.552,"prix":1.556},{"annee":2012.568,"prix":1.570},{"annee":2012.582,"prix":1.590},{"annee":2012.608,"prix":1.635},{"annee":2012.628,"prix":1.649},{"annee":2012.642,"prix":1.590},{"annee":2012.663,"prix":1.594},{"annee":2012.683,"prix":1.590},{"annee":2012.703,"prix":1.533},{"annee":2012.723,"prix":1.539},{"annee":2012.743,"prix":1.549},{"annee":2012.759,"prix":1.580},{"annee":2012.773,"prix":1.558},{"annee":2012.789,"prix":1.529},{"annee":2012.803,"prix":1.505},{"annee":2012.824,"prix":1.485},{"annee":2012.844,"prix":1.485},{"annee":2012.864,"prix":1.500},{"annee":2012.884,"prix":1.503},{"annee":2012.898,"prix":1.487},{"annee":2012.914,"prix":1.507},{"annee":2012.934,"prix":1.503},{"annee":2012.954,"prix":1.503},{"annee":2012.975,"prix":1.501},{"annee":2012.995,"prix":1.533},
{"annee":2013.011,"prix":1.556},{"annee":2013.031,"prix":1.558},{"annee":2013.051,"prix":1.574},{"annee":2013.071,"prix":1.588},{"annee":2013.092,"prix":1.600},{"annee":2013.116,"prix":1.618},{"annee":2013.136,"prix":1.622},{"annee":2013.156,"prix":1.612},{"annee":2013.176,"prix":1.590},{"annee":2013.192,"prix":1.580},{"annee":2013.212,"prix":1.592},{"annee":2013.233,"prix":1.599},{"annee":2013.247,"prix":1.596},{"annee":2013.261,"prix":1.566},{"annee":2013.277,"prix":1.529},{"annee":2013.297,"prix":1.525},{"annee":2013.317,"prix":1.517},{"annee":2013.337,"prix":1.517},{"annee":2013.361,"prix":1.533},{"annee":2013.382,"prix":1.543},{"annee":2013.408,"prix":1.542},{"annee":2013.428,"prix":1.535},{"annee":2013.448,"prix":1.535},{"annee":2013.468,"prix":1.527},{"annee":2013.482,"prix":1.525},{"annee":2013.498,"prix":1.533},{"annee":2013.518,"prix":1.547},{"annee":2013.535,"prix":1.560},{"annee":2013.555,"prix":1.533},{"annee":2013.575,"prix":1.547},{"annee":2013.599,"prix":1.547},{"annee":2013.619,"prix":1.541},{"annee":2013.639,"prix":1.562},{"annee":2013.660,"prix":1.556},{"annee":2013.680,"prix":1.543},{"annee":2013.700,"prix":1.523},{"annee":2013.720,"prix":1.501},{"annee":2013.740,"prix":1.489},{"annee":2013.761,"prix":1.485},{"annee":2013.781,"prix":1.489},{"annee":2013.801,"prix":1.485},{"annee":2013.821,"prix":1.468},{"annee":2013.841,"prix":1.466},{"annee":2013.861,"prix":1.477},{"annee":2013.882,"prix":1.493},{"annee":2013.912,"prix":1.503},{"annee":2013.932,"prix":1.493},{"annee":2013.952,"prix":1.489},{"annee":2013.972,"prix":1.503},{"annee":2013.993,"prix":1.509},{"annee":2014.013,"prix":1.501},{"annee":2014.033,"prix":1.495}
]
},
"encoding": {
"x": {"field": "annee", "type": "quantitative", "scale": {"domain": [2002, 2014.05], "nice": false, "zero": false},
 "axis": {"values": [2002,2003,2004,2005,2006,2007,2008,2009,2010,2011,2012,2013,2014], "format": "d", "grid": false, "ticks": false, "tickSize": 0, "labelPadding": 37, "labelBaseline": "middle", "labelFlush": false, "labelFont": "Lato", "labelFontWeight": "bold", "labelFontSize": 25, "labelColor": "#000000", "domainColor": "#868686", "domainWidth": 4,
  "title": "Source : DGEC - Relevés", "titleX": 45, "titleY": 92, "titleAlign": "left", "titleAnchor": null, "titleBaseline": "middle", "titleFont": "Roboto", "titleFontStyle": "italic", "titleFontWeight": "normal", "titleFontSize": 27, "titleColor": "#1a1a1a"}},
"y": {"field": "prix", "type": "quantitative", "scale": {"domain": [0.5, 1.7], "nice": false, "zero": false},
 "axis": {"values": [0.5,0.6,0.7,0.8,0.9,1.0,1.1,1.2,1.3,1.4,1.5,1.6,1.7], "format": ".1f", "grid": false, "ticks": false, "tickSize": 0, "domain": false, "labelAlign": "left", "labelPadding": 63, "labelBaseline": "middle", "labelFont": "Lato", "labelFontSize": 26, "labelColor": "#000000", "title": null}}
},
"layer": [
{"data": {"values": [{"annee": 2012.965, "fin": 2014.4, "prix": 1.521}]}, "mark": {"type": "rule", "color": "#ee3131", "strokeWidth": 3}, "encoding": {"x2": {"field": "fin"}}},
{"data": {"values": [{"annee": 2012.965, "fin": 2014.4, "prix": 1.339}]}, "mark": {"type": "rule", "color": "#00a2f2", "strokeWidth": 3}, "encoding": {"x2": {"field": "fin"}}},
{"data": {"name": "gazole"}, "mark": {"type": "line", "strokeWidth": 5.5, "strokeJoin": "round", "strokeCap": "round"},
 "encoding": {"color": {"datum": "Prix TTC Gazole", "scale": {"domain": ["Prix TTC Gazole", "Prix TTC SP95"], "range": ["#0090d2", "#ee3131"]},
  "legend": {"orient": "none", "legendX": 718, "legendY": 1037, "direction": "horizontal", "columns": 2, "title": null, "symbolType": "stroke", "symbolSize": 3600, "symbolStrokeWidth": 8, "labelFont": "Roboto", "labelFontSize": 26, "labelLimit": 400, "labelColor": "#000000", "labelOffset": 2, "columnPadding": 14, "padding": 0}}}},
{"data": {"name": "sp95"}, "mark": {"type": "line", "strokeWidth": 5.5, "strokeJoin": "round", "strokeCap": "round"},
 "encoding": {"color": {"datum": "Prix TTC SP95"}}},
{"data": {"values": [{"annee": 2007.914, "prix": 1.652, "texte": "Pic de 2008"}, {"annee": 2010.237, "prix": 1.747, "texte": "Pic de 2012"}]},
 "mark": {"type": "text", "align": "left", "baseline": "middle", "font": "Lato", "fontWeight": "bold", "fontSize": 29, "color": "#7f7f7f"},
 "encoding": {"text": {"field": "texte"}}},
{"data": {"values": [{"annee": 2007.914, "prix": 1.605, "texte": "20 juin : SP95\u00a0\u00a0\u00a0\u00a01,495"}, {"annee": 2007.914, "prix": 1.557, "texte": "30 mai : Gazole 1,454"}, {"annee": 2010.237, "prix": 1.700, "texte": "13 avril : SP95\u00a0\u00a0\u00a0\u00a0\u00a01,666"}, {"annee": 2010.237, "prix": 1.652, "texte": "28 août : Gazole 1,459"}]},
 "mark": {"type": "text", "align": "left", "baseline": "middle", "font": "Lato", "fontSize": 29.5, "color": "#7f7f7f"},
 "encoding": {"text": {"field": "texte"}}},
{"data": {"values": [{"annee": 2012.871, "prix": 1.747, "texte": "Prix au 31 01 2014"}, {"annee": 2012.871, "prix": 1.700, "texte": "SP95\u00a0\u00a0\u00a0\u00a0\u00a01,499"}, {"annee": 2012.871, "prix": 1.652, "texte": "Gazole\u00a0\u00a01,324"}]},
 "mark": {"type": "text", "align": "left", "baseline": "middle", "font": "Roboto", "fontSize": 28, "color": "#7f7f7f"},
 "encoding": {"text": {"field": "texte"}}},
{"data": {"values": [{"annee": 2001.716, "prix": 1.768, "texte": "€/litre"}]},
 "mark": {"type": "text", "align": "left", "baseline": "middle", "font": "Lato", "fontWeight": "bold", "fontSize": 27, "color": "#000000"},
 "encoding": {"text": {"field": "texte"}}}
]
}
